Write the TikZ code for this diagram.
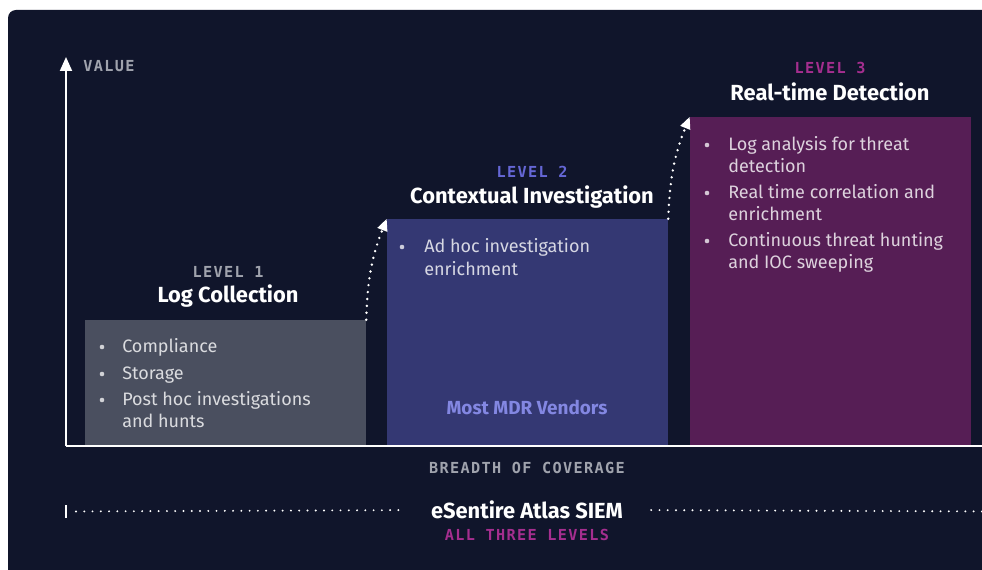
\documentclass[tikz,border=0pt]{standalone}
\usepackage{fontspec}
\setmainfont{Fira Sans}
\newfontfamily\capsfont[LetterSpace=9]{DejaVu Sans Mono}
\usetikzlibrary{arrows.meta}

\definecolor{night}{HTML}{10152B}
\definecolor{slate}{HTML}{4A4F5F}
\definecolor{indigo}{HTML}{343873}
\definecolor{plum}{HTML}{561E55}
\definecolor{mist}{HTML}{A0A3AD}
\definecolor{violet}{HTML}{6567D6}
\definecolor{orchid}{HTML}{A52E8F}
\definecolor{lilac}{HTML}{8387E2}

\newcommand{\pxu}{0.75pt}

\tikzset{
  box/.style={inner sep=0pt, minimum width=281*\pxu},
  level/.style={inner sep=0pt, font=\capsfont\bfseries\fontsize{11.4}{13}\selectfont},
  title/.style={inner sep=0pt, text=white, font=\bfseries\fontsize{16.4}{19}\selectfont},
  item/.style={anchor=base west, inner sep=0pt, text=white, text opacity=0.8,
    font=\fontsize{13.5}{16}\selectfont},
  dot/.style={circle, fill=white, fill opacity=0.75, inner sep=0pt, minimum size=4.6*\pxu},
  axis/.style={white, line width=2*\pxu},
  hop/.style={white, line width=2pt, line cap=round, dash pattern=on 0pt off 5.2pt,
    -{Triangle[width=7.5pt,length=9pt]}},
  rule/.style={white, line width=1.6pt, line cap=round, dash pattern=on 0pt off 6.2pt},
}

\begin{document}
\begin{tikzpicture}[x=\pxu, y=-\pxu]
  \useasboundingbox (0,0) rectangle (982,570);
  \clip (0,0) rectangle (982,570);
  \fill[white] (0,0) rectangle (982,570);
  \fill[night, rounded corners=8*\pxu] (8,590) -- (8,10) -- (1000,10) -- (1000,590) -- cycle;

  % the three levels
  \node (box1) [box, fill=slate, minimum height=126*\pxu] at (225.5,383) {};
  \node (box2) [box, fill=indigo, minimum height=227*\pxu] at (527.5,332.5) {};
  \node (box3) [box, fill=plum, minimum height=329*\pxu] at (830.5,281.5) {};

  \node (lvl1) [level, text=mist] at (228,272) {LEVEL 1};
  \node (name1) [title] at (228,296) {Log Collection};
  \node (lvl2) [level, text=violet] at (532,172) {LEVEL 2};
  \node (name2) [title] at (532,197) {Contextual Investigation};
  \node (lvl3) [level, text=orchid] at (830,68) {LEVEL 3};
  \node (name3) [title] at (830,92) {Real-time Detection};

  % bullet lists
  \foreach \y/\t [count=\i] in {352.5/Compliance, 379.5/Storage,
      405.5/Post hoc investigations, 427.5/and hunts}
    \node (a\i) [item] at (122,\y) {\t};
  \foreach \y in {352.5,379.5,405.5}
    \node [dot] at (102,\y-5.5) {};

  \foreach \y/\t [count=\i] in {252.5/Ad hoc investigation, 275.5/enrichment}
    \node (b\i) [item] at (424,\y) {\t};
  \node [dot] at (402,247) {};

  \foreach \y/\t [count=\i] in {150.5/Log analysis for threat, 172.5/detection,
      198.5/Real time correlation and, 220.5/enrichment,
      246.5/Continuous threat hunting, 268.5/and IOC sweeping}
    \node (c\i) [item] at (728,\y) {\t};
  \foreach \y in {150.5,198.5,246.5}
    \node [dot] at (707,\y-5.5) {};

  \node (mdr) [inner sep=0pt, text=lilac, font=\bfseries\fontsize{14.2}{16}\selectfont]
    at (527,407) {Most MDR Vendors};

  % steps between levels
  \draw[hop] (box1.north east) to[bend left=10] (box2.north west);
  \draw[hop] (box2.north east) to[bend left=10] (box3.north west);

  % axes
  \coordinate (origin) at (66,446);
  \coordinate (ytop) at (66,57);
  \coordinate (xend) at (995,446);
  \draw[axis, -{Triangle[width=9pt,length=10.5pt]}] (origin) -- (ytop);
  \draw[axis] (origin) -- (xend);
  \node (value) [level, text=mist, anchor=west] at (83,66) {VALUE};
  \node (breadth) [level, text=mist] at (527,468) {BREADTH OF COVERAGE};

  % span of the whole product
  \coordinate (tick) at (66,511.5);
  \coordinate (rend) at (995,511.5);
  \draw[white, line width=1.6pt] (66,505) -- (66,518);
  \node (siem) [title] at (527,510) {eSentire Atlas SIEM};
  \node (all) [level, text=orchid] at (527,535) {ALL THREE LEVELS};
  \draw[rule, shorten <=7.5pt, shorten >=20pt] (tick) -- (siem.west);
  \draw[rule, shorten <=21pt] (siem.east) -- (rend);
\end{tikzpicture}
\end{document}
